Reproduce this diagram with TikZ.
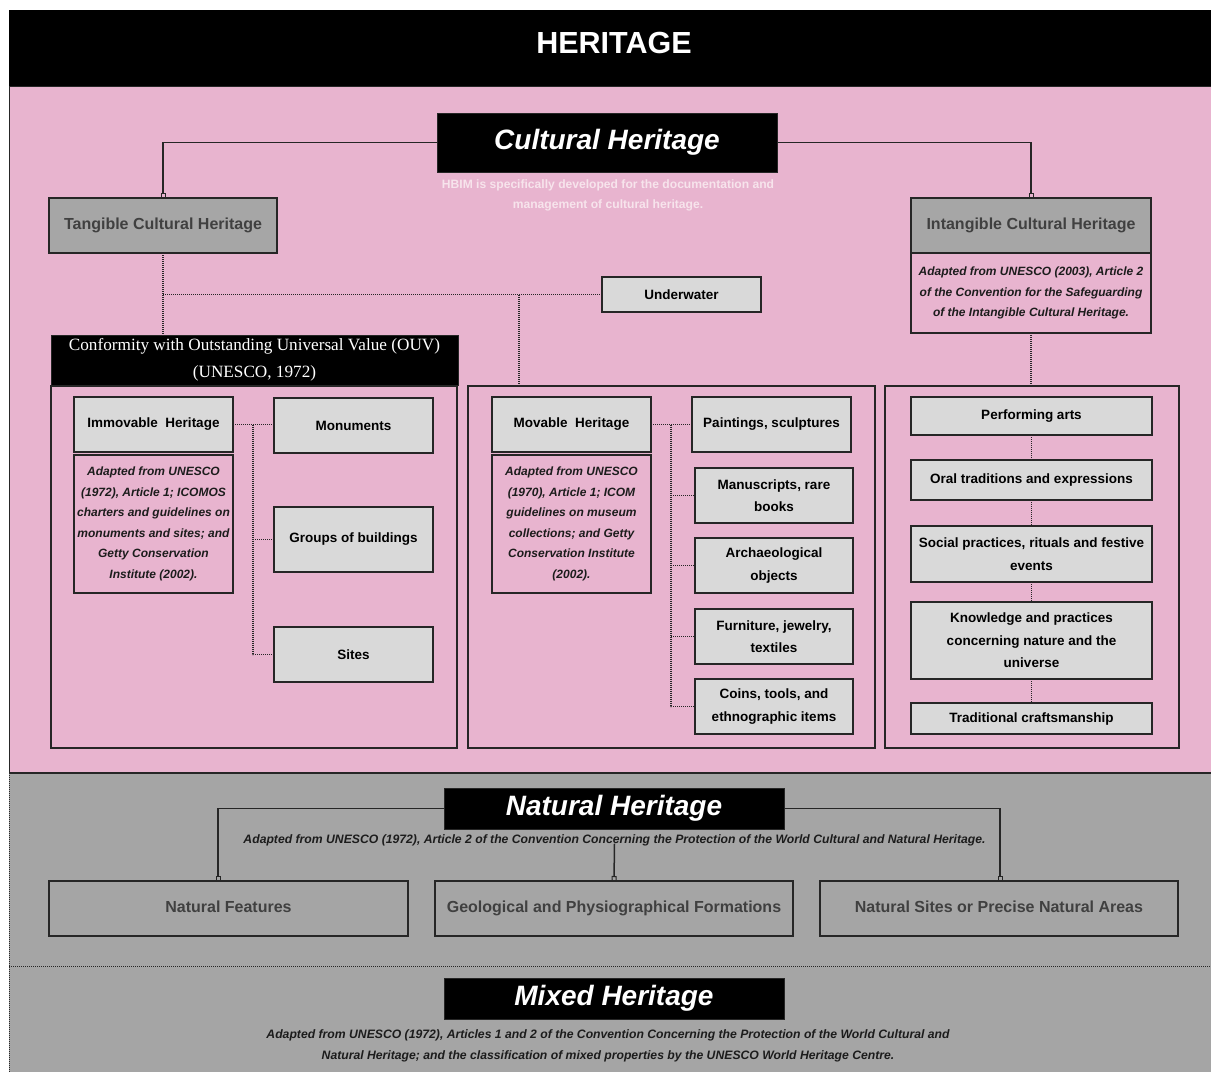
\documentclass[tikz,border=0pt]{standalone}
\usepackage{fontspec}
\setmainfont{Liberation Sans}
\newfontfamily\ouvfont{Liberation Serif}
\usetikzlibrary{arrows.meta}

\definecolor{pinkbg}{HTML}{E8B4CF}
\definecolor{graybg}{HTML}{A5A5A5}
\definecolor{midgray}{HTML}{A6A6A6}
\definecolor{lightbox}{HTML}{D9D9D9}
\definecolor{edge}{HTML}{262626}
\definecolor{softtext}{HTML}{404040}
\definecolor{hbimtext}{HTML}{F7E4EC}
\definecolor{notetext}{HTML}{1C1C1C}

\begin{document}
\begin{tikzpicture}[x=1pt,y=-1pt,
  every node/.style={inner sep=0pt, outer sep=0pt, align=center},
  blackbox/.style={fill=black, draw=edge, line width=0.8pt, text=white},
  bigtitle/.style={font=\fontsize{28}{32}\selectfont\bfseries\itshape},
  catbox/.style={fill=midgray, draw=edge, line width=1.3pt, text=softtext,
    font=\fontsize{16}{19}\selectfont\bfseries, text height=11.5pt, text depth=3.5pt},
  itembox/.style={fill=lightbox, draw=edge, line width=1.3pt,
    font=\fontsize{13.5}{22.5}\selectfont\bfseries},
  notebox/.style={fill=pinkbg, draw=edge, line width=1.1pt, text=notetext,
    font=\fontsize{12}{20.5}\selectfont\bfseries\itshape},
  container/.style={draw=edge, line width=1.1pt},
  natbox/.style={draw=edge, line width=1.3pt, text=softtext,
    font=\fontsize{16}{19}\selectfont\bfseries, text height=11.5pt, text depth=3.5pt},
  subnote/.style={text=notetext, font=\fontsize{12.2}{21}\selectfont\bfseries\itshape},
  link/.style={draw=edge, line width=1.5pt,
    -{Square[open, length=5pt, width=5pt, line width=1pt]}},
  dotlink/.style={draw=edge, line width=1.2pt, dash pattern=on 1.1pt off 0.9pt},
]
\useasboundingbox (0,0) rectangle (1211,1072);

% ---------- backgrounds ----------
\fill[white] (0,0) rectangle (1211,1072);
\fill[black] (9,10) rectangle (1211,86);
\node[text=white, font=\fontsize{30.5}{34}\selectfont\bfseries] (title) at (614,42.5) {HERITAGE};

\path[fill=pinkbg, draw=edge, line width=1pt] (9,86) rectangle (1211,773);
\fill[graybg] (9,773) rectangle (1211,1072);
\draw[edge, line width=1.6pt] (9,773) -- (1211,773);
\draw[dotlink, line width=0.9pt] (9,773) -- (9,1072);
\draw[dotlink, line width=1pt] (9,966) -- (1211,966);

% ---------- cultural heritage ----------
\node[blackbox, bigtitle, minimum width=340pt, minimum height=59pt] (cult) at (607,142.5) {Cultural Heritage};
\node[text=hbimtext, font=\fontsize{12.1}{20}\selectfont\bfseries] (hbim) at (608,195)
  {HBIM is specifically developed for the documentation and\\ management of cultural heritage.};

\node[catbox, minimum width=228pt, minimum height=55pt] (tang) at (163,225.5) {Tangible Cultural Heritage};
\node[catbox, minimum width=240pt, minimum height=55pt] (intang) at (1031,225.5) {Intangible Cultural Heritage};
\node[notebox, minimum width=240pt, minimum height=80pt] (intnote) at (1031,293)
  {Adapted from UNESCO (2003), Article 2\\ of the Convention for the Safeguarding\\ of the Intangible Cultural Heritage.};

\draw[link] (cult.west) -| (tang.north);
\draw[link] (cult.east) -| (intang.north);

\node[itembox, minimum width=159pt, minimum height=35pt] (under) at (681.5,294.5) {Underwater};

\node[fill=black, draw=edge, line width=0.8pt, text=white, minimum width=407pt, minimum height=50pt,
  font=\ouvfont\fontsize{17.2}{27}\selectfont] (ouv) at (254.5,360)
  {Conformity with Outstanding Universal Value (OUV)\\ (UNESCO, 1972)};

% three containers
\node[container, minimum width=406pt, minimum height=362pt] (lcont) at (254,567) {};
\node[container, minimum width=407pt, minimum height=362pt] (mcont) at (671.5,567) {};
\node[container, minimum width=294pt, minimum height=362pt] (rcont) at (1032,567) {};

% tangible branches
\coordinate (tjoin) at (tang.south |- under.west);
\coordinate (mjoin) at (519,294.5);
\coordinate (mtop) at (673,386);
\draw[dotlink] (tang.south) -- (tang.south |- ouv.north);
\draw[dotlink] (tjoin) -- (under.west);
\draw[dotlink] (mjoin) -- (mjoin |- mtop) -- (mtop);

% ---------- immovable ----------
\node[itembox, minimum width=159pt, minimum height=55pt] (imm) at (153.5,424.5) {Immovable~~Heritage};
\node[notebox, minimum width=159pt, minimum height=138pt] (immnote) at (153.5,524)
  {Adapted from UNESCO\\ (1972), Article 1; ICOMOS\\ charters and guidelines on\\ monuments and sites; and\\ Getty Conservation\\ Institute (2002).};
\node[itembox, minimum width=159pt, minimum height=55pt] (mon) at (353.5,425.5) {Monuments};
\node[itembox, minimum width=159pt, minimum height=65pt] (grp) at (353.5,539.5) {Groups of buildings};
\node[itembox, minimum width=159pt, minimum height=55pt] (sites) at (353.5,654.5) {Sites};

\coordinate (ibus) at (253,424.5);
\draw[dotlink] (imm.east) -- (imm.east -| mon.west);
\draw[dotlink] (ibus) -- (ibus |- sites.west) -- (sites.west);
\draw[dotlink] (ibus |- grp.west) -- (grp.west);

% ---------- movable ----------
\node[itembox, minimum width=159pt, minimum height=55pt] (mov) at (571.5,424.5) {Movable~~Heritage};
\node[notebox, minimum width=159pt, minimum height=138pt] (movnote) at (571.5,524)
  {Adapted from UNESCO\\ (1970), Article 1; ICOM\\ guidelines on museum\\ collections; and Getty\\ Conservation Institute\\ (2002).};
\node[itembox, minimum width=159pt, minimum height=55pt] (paint) at (771.5,424.5) {Paintings, sculptures};
\node[itembox, minimum width=158pt, minimum height=55pt] (manu) at (774,495.5) {Manuscripts, rare\\ books};
\node[itembox, minimum width=158pt, minimum height=55pt] (arch) at (774,565.5) {Archaeological\\ objects};
\node[itembox, minimum width=158pt, minimum height=55pt] (furn) at (774,636.5) {Furniture, jewelry,\\ textiles};
\node[itembox, minimum width=158pt, minimum height=55pt] (coins) at (774,706.5) {Coins, tools, and\\ ethnographic items};

\coordinate (mbus) at (671,424.5);
\draw[dotlink] (mov.east) -- (mov.east -| paint.west);
\draw[dotlink] (mbus) -- (mbus |- coins.west) -- (coins.west);
\draw[dotlink] (mbus |- manu.west) -- (manu.west);
\draw[dotlink] (mbus |- arch.west) -- (arch.west);
\draw[dotlink] (mbus |- furn.west) -- (furn.west);

% ---------- intangible ----------
\node[itembox, minimum width=241pt, minimum height=38pt] (perf) at (1031.5,416) {Performing arts};
\node[itembox, minimum width=241pt, minimum height=40pt] (oral) at (1031.5,480) {Oral traditions and expressions};
\node[itembox, minimum width=241pt, minimum height=56pt] (social) at (1031.5,554) {Social practices, rituals and festive\\ events};
\node[itembox, minimum width=241pt, minimum height=77pt] (know) at (1031.5,640.5) {Knowledge and practices\\ concerning nature and the\\ universe};
\node[itembox, minimum width=241pt, minimum height=31pt] (craft) at (1031.5,718.5) {Traditional craftsmanship};

\draw[dotlink] (intnote.south) -- (intnote.south |- rcont.north);
\draw[dotlink] (perf.south) -- (oral.north);
\draw[dotlink] (oral.south) -- (social.north);
\draw[dotlink] (social.south) -- (know.north);
\draw[dotlink] (know.south) -- (craft.north);

% ---------- natural heritage ----------
\node[blackbox, bigtitle, minimum width=340pt, minimum height=41pt] (nat) at (614,808.5) {Natural Heritage};
\node[subnote] (natsub) at (614.5,840)
  {Adapted from UNESCO (1972), Article 2 of the Convention Concerning the Protection of the World Cultural and Natural Heritage.};
\node[natbox, minimum width=359pt, minimum height=55pt] (natfeat) at (228.5,908.5) {Natural Features};
\node[natbox, minimum width=358pt, minimum height=55pt] (geo) at (614,908.5) {Geological and Physiographical Formations};
\node[natbox, minimum width=358pt, minimum height=55pt] (natsites) at (999,908.5) {Natural Sites or Precise Natural Areas};

\draw[link] (nat.west) -| ([xshift=-10.5pt]natfeat.north);
\draw[link] (nat.east) -| ([xshift=1pt]natsites.north);
\draw[link] ([yshift=2pt]natsub.south) -- (geo.north);

% ---------- mixed heritage ----------
\node[blackbox, bigtitle, minimum width=340pt, minimum height=41pt] (mix) at (614,998.5) {Mixed Heritage};
\node[subnote] (mixsub) at (608,1045.5)
  {Adapted from UNESCO (1972), Articles 1 and 2 of the Convention Concerning the Protection of the World Cultural and\\ Natural Heritage; and the classification of mixed properties by the UNESCO World Heritage Centre.};
\end{tikzpicture}
\end{document}
